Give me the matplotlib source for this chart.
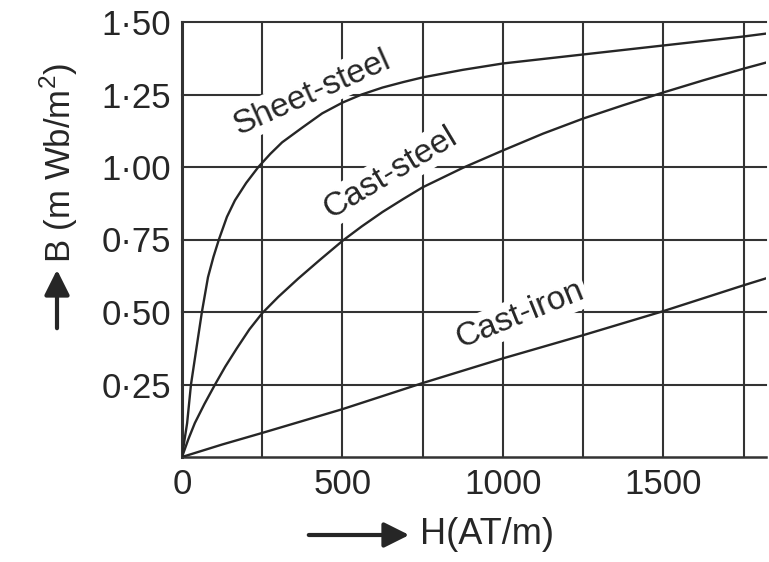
import numpy as np
import matplotlib.pyplot as plt

plt.rcParams['font.family'] = ['Liberation Sans', 'DejaVu Sans']
plt.rcParams['mathtext.fontset'] = 'custom'
plt.rcParams['mathtext.rm'] = 'Liberation Sans'

# B-H curves (H in AT/m, B in Wb/m^2)
sheet_H = [0, 8, 16, 28, 44, 62, 81, 98, 115, 140, 165, 200, 238, 275, 312, 375, 437, 500,
           560, 625, 690, 750, 875, 1000, 1250, 1500, 1750, 1820]
sheet_B = [0, 0.06, 0.117, 0.25, 0.368, 0.50, 0.62, 0.69, 0.75, 0.828, 0.885, 0.945, 1.00,
           1.045, 1.085, 1.136, 1.185, 1.222, 1.25, 1.274, 1.293, 1.309, 1.335, 1.357,
           1.388, 1.419, 1.45, 1.46]

cast_steel_H = [0, 20, 40, 70, 103, 135, 171, 210, 250, 300, 362, 430, 502, 560, 625, 690,
                750, 875, 1000, 1125, 1250, 1375, 1500, 1625, 1750, 1820]
cast_steel_B = [0, 0.062, 0.117, 0.183, 0.25, 0.312, 0.375, 0.44, 0.496, 0.552, 0.615, 0.68,
                0.747, 0.795, 0.845, 0.89, 0.93, 0.997, 1.057, 1.115, 1.167, 1.213, 1.257,
                1.299, 1.339, 1.36]

cast_iron_H = [0, 125, 250, 500, 750, 1000, 1250, 1500, 1750, 1820]
cast_iron_B = [0, 0.043, 0.083, 0.165, 0.255, 0.34, 0.42, 0.503, 0.592, 0.616]

x_ticks = [0, 500, 1000, 1500]
x_grid = [250, 500, 750, 1000, 1250, 1500, 1750]
y_ticks = [0.25, 0.50, 0.75, 1.00, 1.25, 1.50]
y_ticklabels = ['0·25', '0·50', '0·75', '1·00', '1·25', '1·50']

ink = '#262626'
W, Hpx = 769, 562

fig = plt.figure(figsize=(W / 100, Hpx / 100), dpi=100)
ax = fig.add_axes([182 / W, 1 - 457 / Hpx, (766 - 182) / W, (457 - 22) / Hpx])

# grid drawn by hand
for x in x_grid:
    ax.axvline(x, color='#333333', lw=1.5, zorder=1)
for y in y_ticks:
    ax.axhline(y, color='#333333', lw=1.5, zorder=1, clip_on=False)

ax.plot(sheet_H, sheet_B, color=ink, lw=1.7, zorder=4)
ax.plot(cast_steel_H, cast_steel_B, color=ink, lw=1.7, zorder=4)
ax.plot(cast_iron_H, cast_iron_B, color=ink, lw=1.7, zorder=4)

box = dict(facecolor='white', edgecolor='none', pad=2)
ax.text(405, 1.257, 'Sheet-steel', rotation=24, ha='center', va='center',
        fontsize=24, color=ink, bbox=box, zorder=3, rotation_mode='anchor')
ax.text(648, 0.978, 'Cast-steel', rotation=31, ha='center', va='center',
        fontsize=24, color=ink, bbox=box, zorder=3, rotation_mode='anchor')
ax.text(1054, 0.489, 'Cast-iron', rotation=22, ha='center', va='center',
        fontsize=24, color=ink, bbox=box, zorder=3, rotation_mode='anchor')

ax.set_xlim(0, 1820)
ax.set_ylim(0, 1.5)
ax.set_xticks(x_ticks)
ax.set_xticklabels([str(v) for v in x_ticks])
ax.set_yticks(y_ticks)
ax.set_yticklabels(y_ticklabels)
ax.tick_params(length=0, labelsize=25, colors=ink)
ax.tick_params(axis='y', pad=8)
ax.tick_params(axis='x', pad=8)

ax.spines['top'].set_visible(False)
ax.spines['right'].set_visible(False)
ax.spines['left'].set_linewidth(2.2)
ax.spines['bottom'].set_linewidth(1.8)
ax.spines['left'].set_color('#333333')
ax.spines['bottom'].set_color('#333333')

# axis labels with arrows
fig.text(59 / W, 1 - 163 / Hpx, 'B (m Wb/m$^2$)', rotation=90, ha='center', va='center',
         fontsize=25, color=ink)
ax.annotate('', xy=(57 / W, 1 - 267 / Hpx), xytext=(57 / W, 1 - 331 / Hpx),
            xycoords='figure fraction', textcoords='figure fraction',
            arrowprops=dict(arrowstyle='-|>', lw=3, color=ink, mutation_scale=38))
ax.annotate('', xy=(412 / W, 1 - 535 / Hpx), xytext=(306 / W, 1 - 535 / Hpx),
            xycoords='figure fraction', textcoords='figure fraction',
            arrowprops=dict(arrowstyle='-|>', lw=3, color=ink, mutation_scale=38))
fig.text(420 / W, 1 - 535 / Hpx, 'H(AT/m)', ha='left', va='center', fontsize=26, color=ink)

fig.savefig('out.png', dpi=100)
